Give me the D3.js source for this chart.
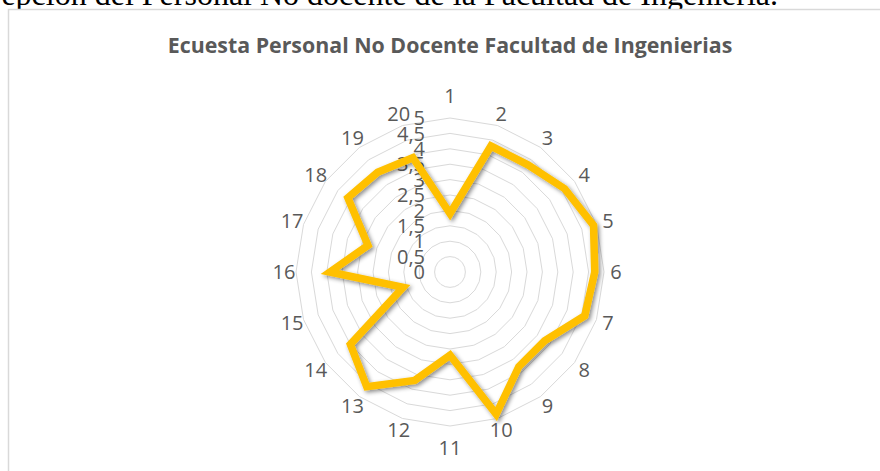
<!DOCTYPE html>
<meta charset="utf-8">
<script src="https://d3js.org/d3.v7.min.js"></script>
<style>
  body { margin: 0; background: #fff; }
</style>
<body>
  <div id="container"></div>
</body>
<script>
    // survey scores per question (1..20)
    var categories = ["1","2","3","4","5","6","7","8","9","10","11","12","13","14","15","16","17","18","19","20"];
    var scores = [1.9, 4.3, 4.3, 4.6, 4.9, 4.7, 4.6, 3.8, 3.8, 4.85, 2.7, 3.7, 4.6, 4.0, 1.6, 3.9, 2.8, 4.1, 4.0, 3.9];
    var tickValues = [0, 0.5, 1, 1.5, 2, 2.5, 3, 3.5, 4, 4.5, 5];
    var tickLabels = ["0","0,5","1","1,5","2","2,5","3","3,5","4","4,5","5"];
    var title = "Ecuesta Personal No Docente Facultad de Ingenierias";
    var pageText = "epción del Personal No docente de la Facultad de Ingeniería.";

    var width = 880, height = 471;
    var cx = 450, cy = 272, radius = 154;
    var grey = "#595959";

    var svg = d3.select("#container")
      .append("svg")
      .attr("width", width)
      .attr("height", height);

    // line of the document text cut at the top
    svg.append("text")
      .attr("x", 778)
      .attr("y", 5)
      .attr("text-anchor", "end")
      .attr("font-family", "Liberation Serif")
      .attr("font-size", 32)
      .attr("fill", "#000")
      .text(pageText);

    // chart frame (runs past the window on right and bottom)
    svg.append("rect")
      .attr("x", 8.5)
      .attr("y", 9.5)
      .attr("width", 1000)
      .attr("height", 600)
      .attr("fill", "#fff")
      .attr("stroke", "#d9d9d9")
      .attr("stroke-width", 1.5);

    // title, sized to the reference width
    var t = svg.append("text")
      .attr("x", cx)
      .attr("y", 53)
      .attr("text-anchor", "middle")
      .attr("font-family", "Open Sans")
      .attr("font-weight", "bold")
      .attr("font-size", 20)
      .attr("fill", grey)
      .text(title);
    var tw = t.node().getComputedTextLength();
    t.attr("font-size", 20 * 565 / tw);

    var angle = d3.scalePoint()
      .domain(categories)
      .range([0, 2 * Math.PI - 2 * Math.PI / categories.length]);

    var r = d3.scaleLinear()
      .domain([0, 5])
      .range([0, radius]);

    var g = svg.append("g")
      .attr("transform", "translate(" + cx + "," + cy + ")");

    // polygon gridlines
    var ring = d3.lineRadial()
      .angle(function(d) { return angle(d); })
      .curve(d3.curveLinearClosed);

    g.append("g")
      .selectAll("path")
      .data(tickValues.filter(function(v) { return v > 0; }))
      .enter()
      .append("path")
        .attr("d", function(v) { return ring.radius(r(v))(categories); })
        .attr("fill", "none")
        .attr("stroke", "#d9d9d9")
        .attr("stroke-width", 1);

    // value axis labels
    g.append("g")
      .selectAll("text")
      .data(tickValues)
      .enter()
      .append("text")
        .attr("x", -25)
        .attr("y", function(v) { return -r(v); })
        .attr("dy", "0.36em")
        .attr("text-anchor", "end")
        .attr("font-family", "Open Sans")
        .attr("font-size", 20)
        .attr("fill", grey)
        .text(function(v, i) { return tickLabels[i]; });

    // category labels
    g.append("g")
      .selectAll("text")
      .data(categories)
      .enter()
      .append("text")
        .attr("x", function(d) {
          return Math.sin(angle(d)) * 166;
        })
        .attr("y", function(d) {
          var a = angle(d);
          var extra = Math.abs(Math.cos(a)) > 0.99 ? 10 : 0;
          return -Math.cos(a) * (166 + extra);
        })
        .attr("dy", "0.36em")
        .attr("text-anchor", "middle")
        .attr("font-family", "Open Sans")
        .attr("font-size", 20)
        .attr("fill", grey)
        .text(function(d) { return d; });

    // shadow like the office chart
    var defs = svg.append("defs");
    defs.append("filter")
      .attr("id", "shadow")
      .attr("x", "-20%").attr("y", "-20%")
      .attr("width", "140%").attr("height", "140%")
      .append("feDropShadow")
        .attr("dx", 2)
        .attr("dy", 2)
        .attr("stdDeviation", 2)
        .attr("flood-color", "#000")
        .attr("flood-opacity", 0.45);

    var line = d3.lineRadial()
      .angle(function(d, i) { return angle(categories[i]); })
      .radius(function(d) { return r(d); })
      .curve(d3.curveLinearClosed);

    g.append("path")
      .datum(scores)
      .attr("d", line)
      .attr("fill", "none")
      .attr("stroke", "#FFC000")
      .attr("stroke-width", 7.5)
      .attr("stroke-linejoin", "miter")
      .attr("filter", "url(#shadow)");
</script>
